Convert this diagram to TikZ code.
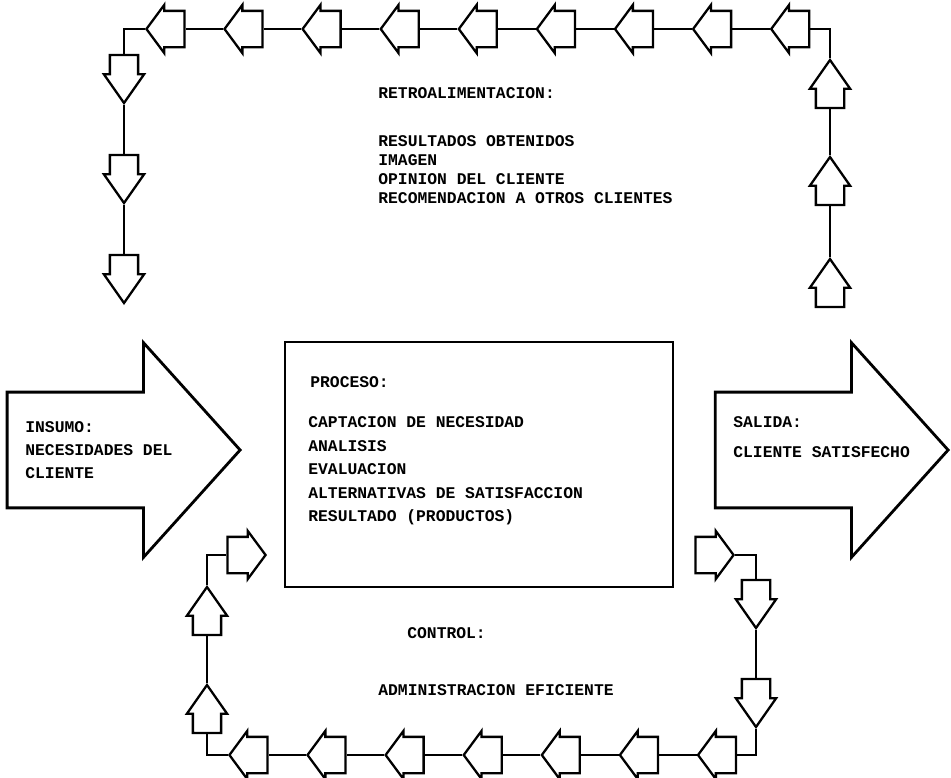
\documentclass[tikz,border=0pt]{standalone}
\usepackage{fontspec}
\setmonofont{Liberation Mono}
\usetikzlibrary{shapes.arrows}
\tikzset{harr/.style={draw,line width=1.3pt,single arrow,inner xsep=0pt,inner ysep=0.34cm,minimum height=0.76cm,single arrow head extend=0.12cm,single arrow tip angle=107,anchor=tip},larr/.style={harr,rotate=180},rarr/.style={harr},varr/.style={draw,line width=1.3pt,single arrow,inner xsep=0pt,inner ysep=0.26cm,minimum height=0.96cm,single arrow head extend=0.12cm,single arrow tip angle=70,anchor=tip},uarr/.style={varr,rotate=90},darr/.style={varr,rotate=-90},bigarr/.style={draw,line width=1.6pt,single arrow,inner xsep=0pt,inner ysep=1.13cm,minimum height=4.66cm,single arrow head extend=0.99cm,single arrow tip angle=96,anchor=tip},link/.style={line width=1.1pt},txt/.style={anchor=base west,inner sep=0pt,font=\ttfamily\bfseries\fontsize{9.3}{11}\selectfont}}

\begin{document}
\begin{tikzpicture}[x=0.02cm,y=-0.02cm]
\useasboundingbox (0,0) rectangle (951,778);
% retroalimentacion
\foreach \i in {1,...,9}{\node[larr] (t\i) at ({145+78.1*(\i-1)},29) {};}
\foreach \i [remember=\i as \k (initially 1)] in {2,...,9}{\draw[link] (t\i.tip) -- (t\k.tail);}
\foreach \i in {1,2,3}{\node[darr] (l\i) at (124,{5+100*\i}) {};}
\node[uarr] (r1) at (830,58) {};
\node[uarr] (r2) at (830,155) {};
\node[uarr] (r3) at (830,257) {};
\draw[link] (t1.tip) -| (l1.tail);
\draw[link] (t9.tail) -| (r1.tip);
\draw[link] (l1.tip) -- (l2.tail);
\draw[link] (l2.tip) -- (l3.tail);
\draw[link] (r2.tip) -- (r1.tail);
\draw[link] (r3.tip) -- (r2.tail);
\node[txt] (retro) at (378,98) {RETROALIMENTACION:};
\foreach \txt [count=\i] in {RESULTADOS OBTENIDOS,IMAGEN,OPINION DEL CLIENTE,RECOMENDACION A OTROS CLIENTES}{\node[txt] (retro\i) at (378,{127+19*\i}) {\txt};}
% insumo, proceso, salida
\node[bigarr] (insumo) at (242,450) {};
\node[bigarr] (salida) at (950,450) {};
\node[draw,line width=1.6pt,minimum width=7.76cm,minimum height=4.9cm,inner sep=0pt] (proceso) at (479,464.5) {};
\node[txt] (insumo1) at (25,432) {INSUMO:};
\node[txt] (insumo2) at (25,455) {NECESIDADES DEL};
\node[txt] (insumo3) at (25,478) {CLIENTE};
\node[txt] (salida1) at (733,427) {SALIDA:};
\node[txt] (salida2) at (733,457) {CLIENTE SATISFECHO};
\node[txt] (proc) at (310,387) {PROCESO:};
\foreach \txt [count=\i] in {CAPTACION DE NECESIDAD,ANALISIS,EVALUACION,ALTERNATIVAS DE SATISFACCION,RESULTADO (PRODUCTOS)}{\node[txt] (proc\i) at (308,{404.2+23.5*\i}) {\txt};}
% control
\node[rarr] (cr) at (735,555) {};
\node[darr] (d1) at (756,630) {};
\node[darr] (d2) at (756,729) {};
\foreach \i in {1,...,7}{\node[larr] (b\i) at ({228+78.1*(\i-1)},755) {};}
\node[uarr] (u1) at (207,585) {};
\node[uarr] (u2) at (207,683) {};
\node[rarr] (cl) at (267,555) {};
\draw[link] (cr.tip) -| (d1.tail);
\draw[link] (d1.tip) -- (d2.tail);
\draw[link] (d2.tip) |- (b7.tail);
\foreach \i [remember=\i as \k (initially 1)] in {2,...,7}{\draw[link] (b\i.tip) -- (b\k.tail);}
\draw[link] (b1.tip) -| (u2.tail);
\draw[link] (u2.tip) -- (u1.tail);
\draw[link] (u1.tip) |- (cl.tail);
\node[txt] (control) at (407,638) {CONTROL:};
\node[txt] (admin) at (378,695) {ADMINISTRACION EFICIENTE};
\end{tikzpicture}
\end{document}
